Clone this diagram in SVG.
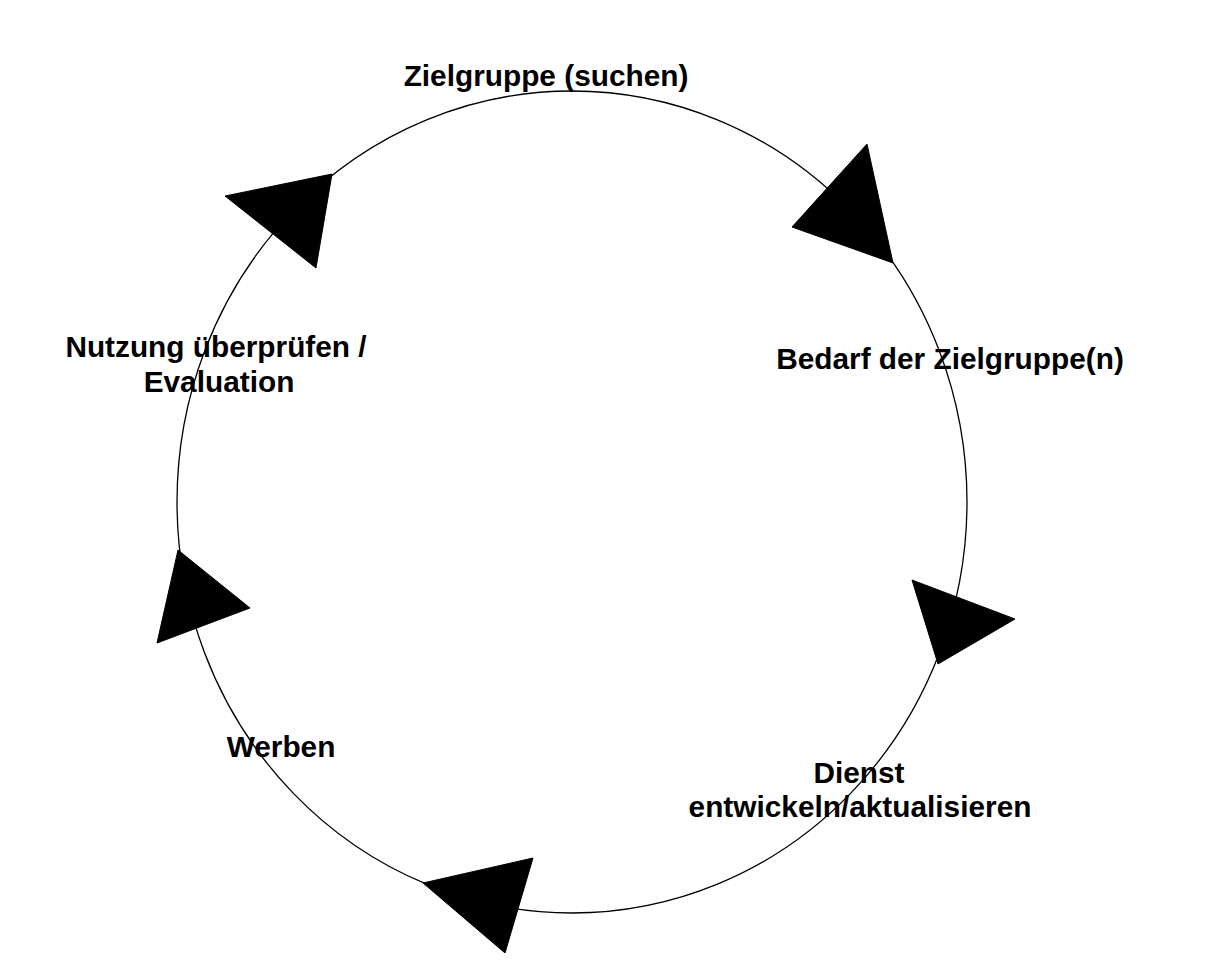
<svg xmlns="http://www.w3.org/2000/svg" width="1213" height="967" viewBox="0 0 1213 967">
<style>
.lbl{font-family:"Liberation Sans",Arial,sans-serif;font-size:29.8px;font-weight:bold;fill:#000;text-anchor:middle}
.tri{fill:#000;stroke:#000;stroke-width:1}
</style>
<rect width="1213" height="967" fill="#fff"/>
<g id="n1"><text class="lbl" x="546" y="86">Zielgruppe (suchen)</text></g>
<g id="n2"><text class="lbl" x="950" y="369">Bedarf der Zielgruppe(n)</text></g>
<g id="n3"><text class="lbl" x="859" y="783">Dienst</text><text class="lbl" x="860" y="817">entwickeln/aktualisieren</text></g>
<g id="n4"><text class="lbl" x="281" y="757">Werben</text></g>
<g id="n5"><text class="lbl" x="216" y="357">Nutzung überprüfen /</text><text class="lbl" x="219" y="392">Evaluation</text></g>
<g id="connectors">
<ellipse cx="572" cy="502" rx="395" ry="411" fill="none" stroke="#000" stroke-width="1.3"/>
<polygon class="tri" points="225,196 332,174 316,268"/>
<polygon class="tri" points="867,144 792,227 893,263"/>
<polygon class="tri" points="912,580 1015,619 938,664"/>
<polygon class="tri" points="423,883 533,858 505,953"/>
<polygon class="tri" points="178,550 250,608 157,643"/>
</g>
</svg>
